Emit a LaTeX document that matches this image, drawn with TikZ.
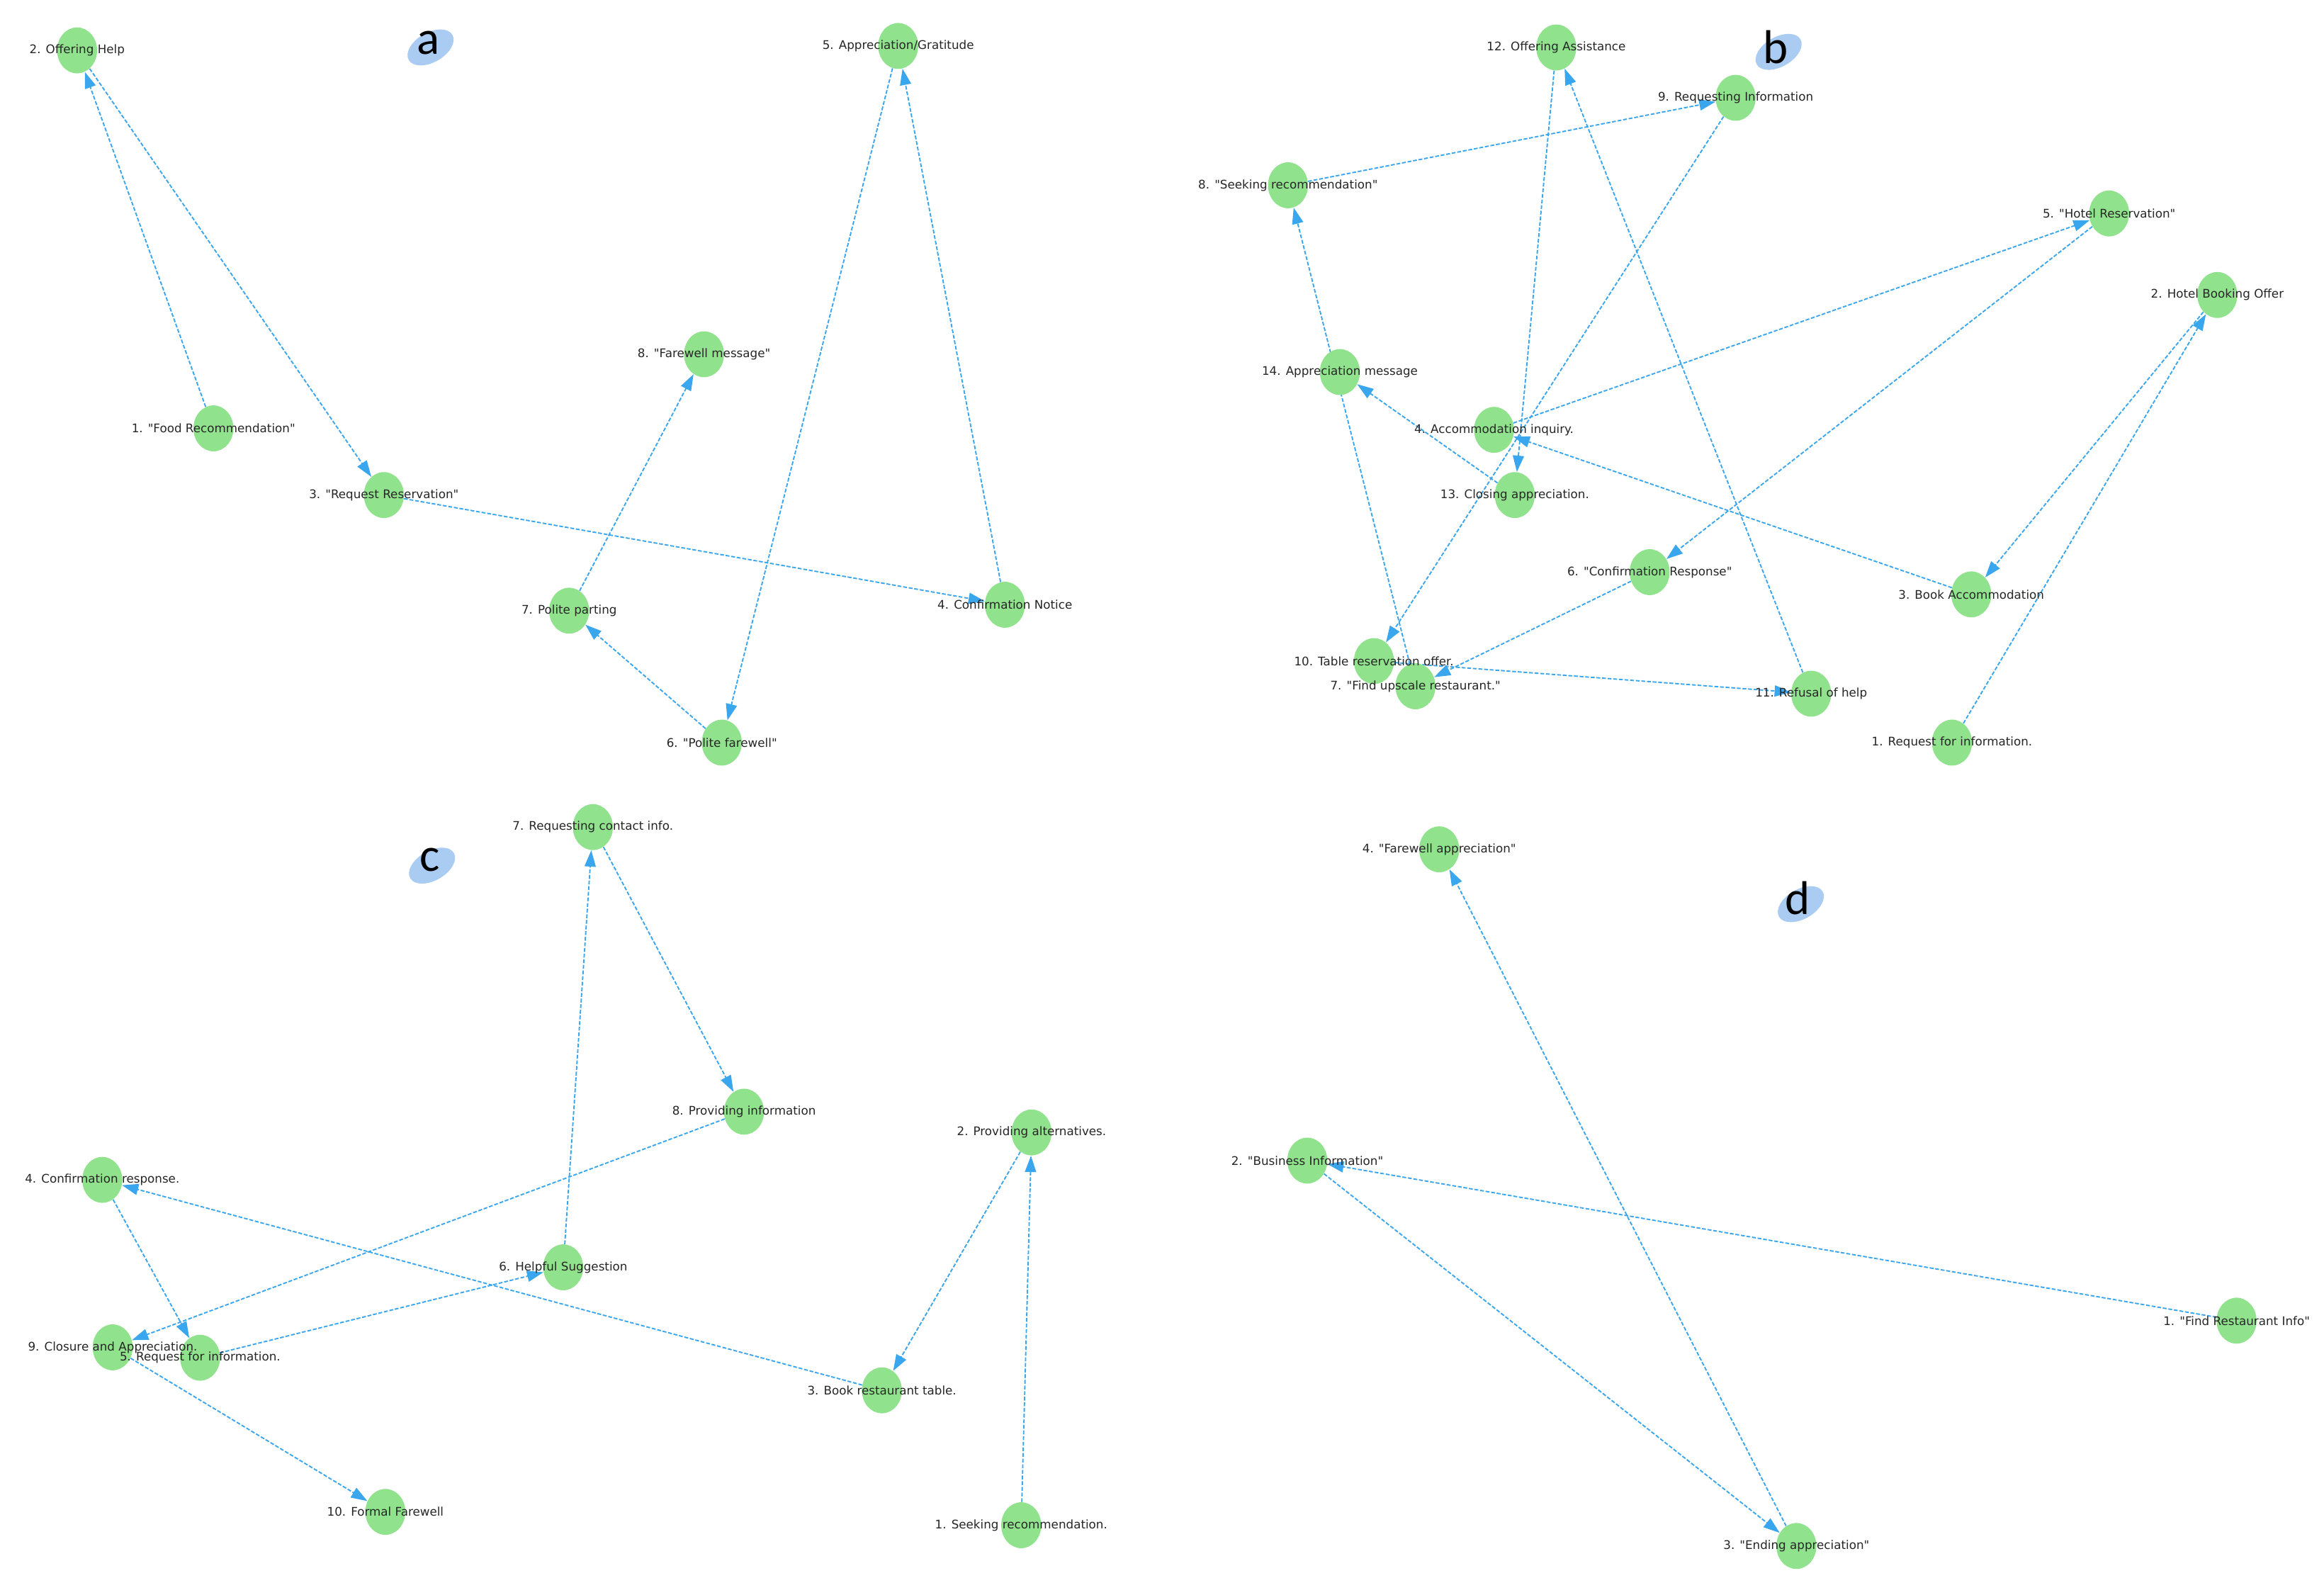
\documentclass[tikz,border=0pt]{standalone}
\usepackage{fontspec}
\setmainfont{DejaVu Sans}[Ligatures=TeXOff]
\newfontfamily\letterfont{Carlito}
\usetikzlibrary{arrows.meta,shapes.geometric}
\pgfdeclarelayer{edges}
\pgfsetlayers{edges,main}
\definecolor{nodegreen}{HTML}{90E38C}
\definecolor{edgeblue}{HTML}{3AA6EE}
\definecolor{tagblue}{HTML}{AACBF2}
\tikzset{
  dot/.style={ellipse, fill=nodegreen, draw=none, minimum width=27pt, minimum height=31pt, inner sep=0pt},
  lbl/.style={font=\fontsize{8}{9}\selectfont, text=black!85, inner sep=0pt},
  flow/.style={draw=edgeblue, line width=0.9pt, dash pattern=on 2.6pt off 1.2pt, -{Triangle[length=11pt,width=7.5pt]}},
  tagbg/.style={ellipse, fill=tagblue, draw=none, minimum width=34pt, minimum height=20pt, rotate=30, inner sep=0pt},
  tagtxt/.style={font=\letterfont\fontsize{32}{32}\selectfont, inner sep=0pt},
}
\begin{document}
\begin{tikzpicture}[x=1pt,y=-1pt]
\useasboundingbox (0,0) rectangle (1568,1076);
% ---------- panel a ----------
\node[tagbg] (ta) at (290.5,32) {};
\node[tagtxt] (la) at (289,29) {a};
\node[dot] (a1) at (144,289) {};
\node[dot] (a2) at (52,34) {};
\node[dot] (a3) at (259,334) {};
\node[dot] (a4) at (678,408) {};
\node[dot] (a5) at (606,31) {};
\node[dot] (a6) at (487,501) {};
\node[dot] (a7) at (384,412) {};
\node[dot] (a8) at (475,239) {};
% ---------- panel b ----------
\node[tagbg] (tb) at (1200,35) {};
\node[tagtxt] (lb) at (1198,32) {b};
\node[dot] (b1) at (1317,501) {};
\node[dot] (b2) at (1496,199) {};
\node[dot] (b3) at (1330,401) {};
\node[dot] (b4) at (1008,290) {};
\node[dot] (b5) at (1423,144) {};
\node[dot] (b6) at (1113,386) {};
\node[dot] (b7) at (955,463) {};
\node[dot] (b8) at (869,125) {};
\node[dot] (b9) at (1171,66) {};
\node[dot] (b10) at (927,446) {};
\node[dot] (b11) at (1222,468) {};
\node[dot] (b12) at (1050,32) {};
\node[dot] (b13) at (1022,334) {};
\node[dot] (b14) at (904,251) {};
% ---------- panel c ----------
\node[tagbg] (tc) at (291.5,584) {};
\node[tagtxt] (lc) at (290,580) {c};
\node[dot] (c1) at (689,1029) {};
\node[dot] (c2) at (696,764) {};
\node[dot] (c3) at (595,938) {};
\node[dot] (c4) at (69,796) {};
\node[dot] (c5) at (135,916) {};
\node[dot] (c6) at (380,855) {};
\node[dot] (c7) at (400,558) {};
\node[dot] (c8) at (502,750) {};
\node[dot] (c9) at (76,909) {};
\node[dot] (c10) at (260,1020) {};
% ---------- panel d ----------
\node[tagbg] (td) at (1215,610) {};
\node[tagtxt] (ld) at (1213,606) {d};
\node[dot] (d1) at (1509,891) {};
\node[dot] (d2) at (882,783) {};
\node[dot] (d3) at (1212,1043) {};
\node[dot] (d4) at (971,573) {};
% ---------- edges ----------
\begin{pgfonlayer}{edges}
\draw[flow] (a1) -- (a2);
\draw[flow] (a2) -- (a3);
\draw[flow] (a3) -- (a4);
\draw[flow] (a4) -- (a5);
\draw[flow] (a5) -- (a6);
\draw[flow] (a6) -- (a7);
\draw[flow] (a7) -- (a8);
\draw[flow] (b1) -- (b2);
\draw[flow] (b2) -- (b3);
\draw[flow] (b3) -- (b4);
\draw[flow] (b4) -- (b5);
\draw[flow] (b5) -- (b6);
\draw[flow] (b6) -- (b7);
\draw[flow] (b7) -- (b8);
\draw[flow] (b8) -- (b9);
\draw[flow] (b9) -- (b10);
\draw[flow] (b10) -- (b11);
\draw[flow] (b11) -- (b12);
\draw[flow] (b12) -- (b13);
\draw[flow] (b13) -- (b14);
\draw[flow] (c1) -- (c2);
\draw[flow] (c2) -- (c3);
\draw[flow] (c3) -- (c4);
\draw[flow] (c4) -- (c5);
\draw[flow] (c5) -- (c6);
\draw[flow] (c6) -- (c7);
\draw[flow] (c7) -- (c8);
\draw[flow] (c8) -- (c9);
\draw[flow] (c9) -- (c10);
\draw[flow] (d1) -- (d2);
\draw[flow] (d2) -- (d3);
\draw[flow] (d3) -- (d4);
\end{pgfonlayer}
% ---------- labels ----------
\node[lbl] (a1t) at (a1) {1. "Food Recommendation"};
\node[lbl] (a2t) at (a2) {2. Offering Help};
\node[lbl] (a3t) at (a3) {3. "Request Reservation"};
\node[lbl] (a4t) at (a4) {4. Confirmation Notice};
\node[lbl] (a5t) at (a5) {5. Appreciation/Gratitude};
\node[lbl] (a6t) at (a6) {6. "Polite farewell"};
\node[lbl] (a7t) at (a7) {7. Polite parting};
\node[lbl] (a8t) at (a8) {8. "Farewell message"};
\node[lbl] (b1t) at (b1) {1. Request for information.};
\node[lbl] (b2t) at (b2) {2. Hotel Booking Offer};
\node[lbl] (b3t) at (b3) {3. Book Accommodation};
\node[lbl] (b4t) at (b4) {4. Accommodation inquiry.};
\node[lbl] (b5t) at (b5) {5. "Hotel Reservation"};
\node[lbl] (b6t) at (b6) {6. "Confirmation Response"};
\node[lbl] (b7t) at (b7) {7. "Find upscale restaurant."};
\node[lbl] (b8t) at (b8) {8. "Seeking recommendation"};
\node[lbl] (b9t) at (b9) {9. Requesting Information};
\node[lbl] (b10t) at (b10) {10. Table reservation offer.};
\node[lbl] (b11t) at (b11) {11. Refusal of help};
\node[lbl] (b12t) at (b12) {12. Offering Assistance};
\node[lbl] (b13t) at (b13) {13. Closing appreciation.};
\node[lbl] (b14t) at (b14) {14. Appreciation message};
\node[lbl] (c1t) at (c1) {1. Seeking recommendation.};
\node[lbl] (c2t) at (c2) {2. Providing alternatives.};
\node[lbl] (c3t) at (c3) {3. Book restaurant table.};
\node[lbl] (c4t) at (c4) {4. Confirmation response.};
\node[lbl] (c5t) at (c5) {5. Request for information.};
\node[lbl] (c6t) at (c6) {6. Helpful Suggestion};
\node[lbl] (c7t) at (c7) {7. Requesting contact info.};
\node[lbl] (c8t) at (c8) {8. Providing information};
\node[lbl] (c9t) at (c9) {9. Closure and Appreciation.};
\node[lbl] (c10t) at (c10) {10. Formal Farewell};
\node[lbl] (d1t) at (d1) {1. "Find Restaurant Info"};
\node[lbl] (d2t) at (d2) {2. "Business Information"};
\node[lbl] (d3t) at (d3) {3. "Ending appreciation"};
\node[lbl] (d4t) at (d4) {4. "Farewell appreciation"};
\end{tikzpicture}
\end{document}
